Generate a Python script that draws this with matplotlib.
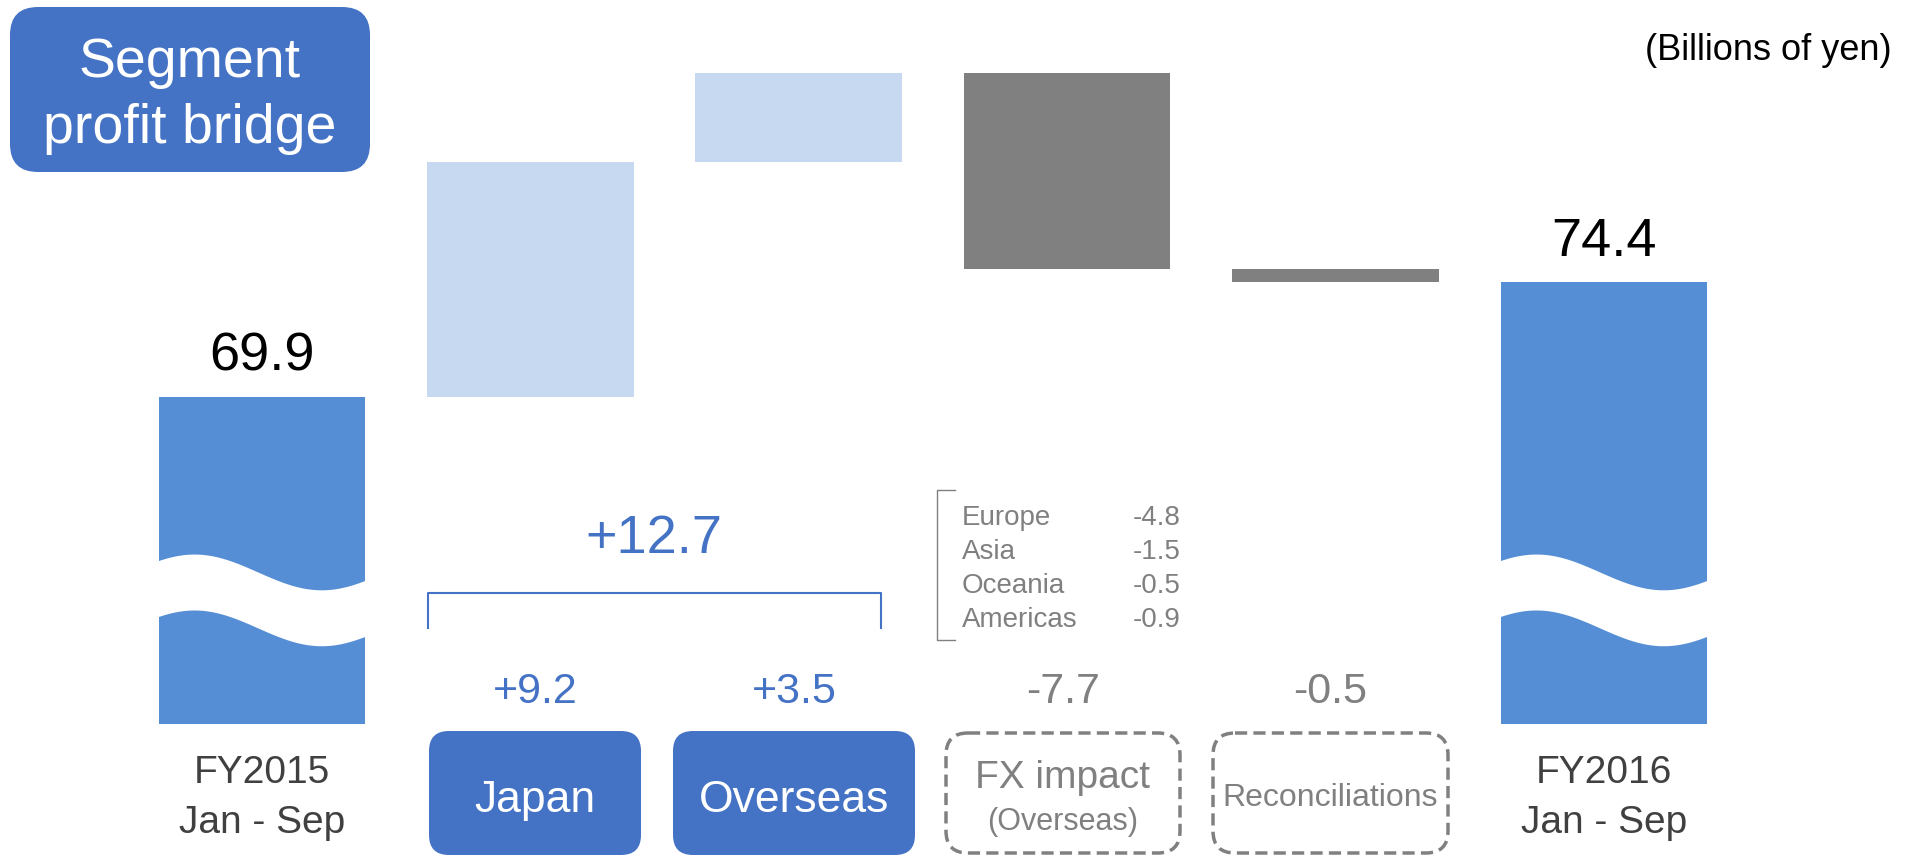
import numpy as np
import matplotlib
matplotlib.use('Agg')
import matplotlib.pyplot as plt
from matplotlib.patches import FancyBboxPatch
from matplotlib.transforms import blended_transform_factory

plt.rcParams['font.family'] = ['Liberation Sans', 'DejaVu Sans']

# segment profit, billions of yen
start_label = 'FY2015\nJan - Sep'
end_label = 'FY2016\nJan - Sep'
start_value = 69.9
end_value = 74.4
step_names = ['Japan', 'Overseas', 'FX impact', 'Reconciliations']
step_notes = ['', '', '(Overseas)', '']
step_values = [9.2, 3.5, -7.7, -0.5]
fx_regions = ['Europe', 'Asia', 'Oceania', 'Americas']
fx_region_values = [-4.8, -1.5, -0.5, -0.9]

BLUE = '#4472C4'
BAR_BLUE = '#558ED5'
LIGHT_BLUE = '#C6D9F1'
GRAY = '#808080'
DARK = '#404040'

W, H = 1915, 857
fig = plt.figure(figsize=(W / 100, H / 100), dpi=100)

# bar axes (value scale); totals start from a floor and get a wave break
ax = fig.add_axes([0, 0, 1, 1])
ax.set_xlim(-0.976, 6.159)
ax.set_ylim(51.89, 85.44)
ax.axis('off')

# layout axes in pixels (y down) for boxes and labels
lay = fig.add_axes([0, 0, 1, 1], zorder=2)
lay.set_xlim(0, W)
lay.set_ylim(H, 0)
lay.axis('off')
lay.patch.set_alpha(0)

floor = 57.1
bar_w = 0.77
x_steps = np.arange(1, len(step_values) + 1)
x_end = len(step_values) + 1
levels = start_value + np.concatenate([[0], np.cumsum(step_values)])
bottoms = np.minimum(levels[:-1], levels[1:])
heights = np.abs(step_values)
step_colors = [LIGHT_BLUE if v > 0 else GRAY for v in step_values]

ax.bar(x_steps, heights, bottom=bottoms, width=bar_w, color=step_colors, lw=0)
totals = [start_value, end_value]
ax.bar([0, x_end], [v - floor for v in totals], bottom=floor, width=bar_w,
       color=BAR_BLUE, lw=0)

# wavy break across the total bars
f = np.linspace(0, 1, 200)
wave_top = 63.05 + 0.7 * np.cos(2 * np.pi * (f - 0.18) / 1.2)
for xi in [0, x_end]:
    xs = xi - bar_w / 2 - 0.01 + f * (bar_w + 0.02)
    ax.fill_between(xs, wave_top - 2.19, wave_top, color='white', lw=0, zorder=3)

for xi, v in zip([0, x_end], totals):
    ax.annotate(f'{v:.1f}', (xi, v), xytext=(0, 19), textcoords='offset points',
                ha='center', va='baseline', fontsize=39, color='black')

# title and units
lay.add_patch(FancyBboxPatch((10, 7), 360, 165, boxstyle='round,pad=0,rounding_size=28',
                             fc=BLUE, ec='none'))
lay.text(190, 77, 'Segment', ha='center', va='baseline', fontsize=40, color='white')
lay.text(190, 143, 'profit bridge', ha='center', va='baseline', fontsize=40, color='white')
lay.text(1892, 60, '(Billions of yen)', ha='right', va='baseline', fontsize=26, color='black')

# x data, y pixels
mix = blended_transform_factory(ax.transData, lay.transData)

# category labels for totals
for xi, lab in zip([0, x_end], [start_label, end_label]):
    for line, yb in zip(lab.split('\n'), [783, 833]):
        lay.text(xi, yb, line, transform=mix, ha='center', va='baseline',
                 fontsize=28, color=DARK)

# combined Japan + Overseas bracket
growth = step_values[0] + step_values[1]
lay.plot([428, 428, 881, 881], [628, 593, 593, 628], color=BLUE, lw=1.5)
lay.text(654, 553, f'{growth:+.1f}', ha='center', va='baseline', fontsize=39, color=BLUE)

# step name boxes, with the change written above each
box_spans = [(429, 641), (673, 915), (944, 1182), (1211, 1450)]
for (x0, x1), name, note, v in zip(box_spans, step_names, step_notes, step_values):
    cx = (x0 + x1) / 2
    lay.text(cx, 703, f'{v:+.1f}', ha='center', va='baseline',
             fontsize=31, color=BLUE if v > 0 else GRAY)
    if v > 0:
        lay.add_patch(FancyBboxPatch((x0, 731), x1 - x0, 124,
                                     boxstyle='round,pad=0,rounding_size=20',
                                     fc=BLUE, ec='none'))
        lay.text(cx, 812, name, ha='center', va='baseline', fontsize=32, color='white')
    else:
        lay.add_patch(FancyBboxPatch((x0 + 2, 733), x1 - x0 - 4, 120,
                                     boxstyle='round,pad=0,rounding_size=22',
                                     fc='none', ec=GRAY, lw=2.5,
                                     linestyle=(0, (3.5, 1.8))))
        if note:
            lay.text(cx, 788, name, ha='center', va='baseline', fontsize=28, color=GRAY)
            lay.text(cx, 830, note, ha='center', va='baseline', fontsize=22, color=GRAY)
        else:
            lay.text(cx, 806, name, ha='center', va='baseline', fontsize=23, color=GRAY)

# FX breakdown by region
lay.plot([955, 937, 937, 955], [490, 490, 640, 640], color=GRAY, lw=1)
for i, (reg, v) in enumerate(zip(fx_regions, fx_region_values)):
    yb = 525 + 34 * i
    lay.text(962, yb, reg, ha='left', va='baseline', fontsize=20, color=GRAY)
    lay.text(1181, yb, f'{v:.1f}', ha='right', va='baseline', fontsize=20, color=GRAY)

fig.savefig('out.png', dpi=100, facecolor='white')
